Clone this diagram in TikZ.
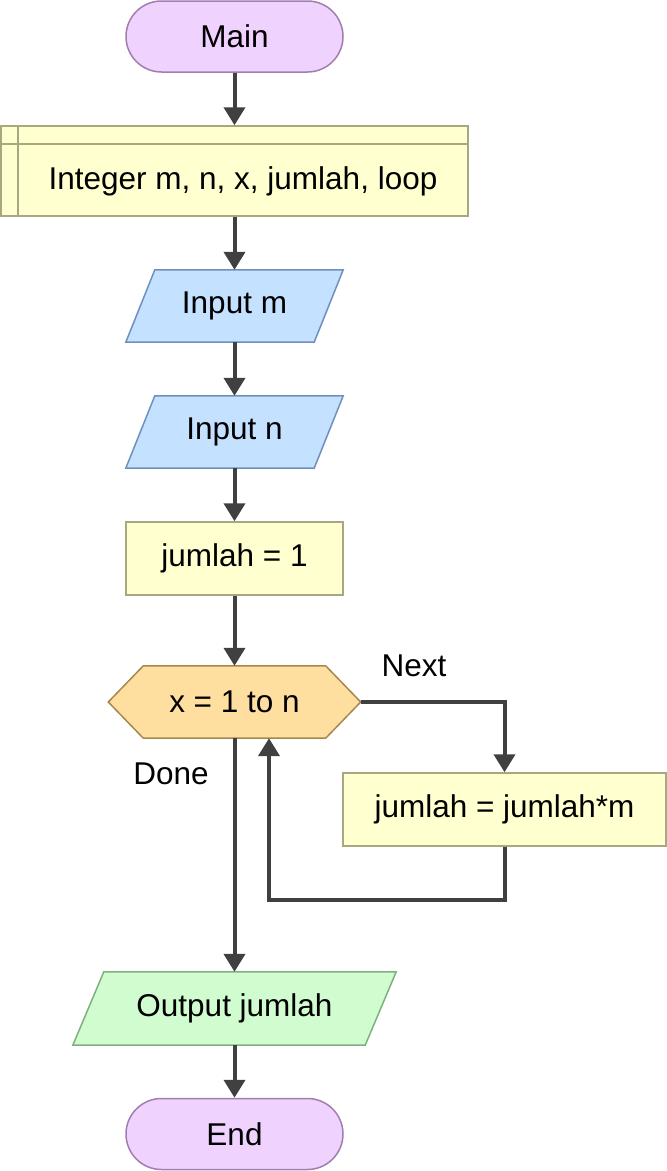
\documentclass[tikz,border=0pt]{standalone}
\usepackage{fontspec}
\setmainfont{Liberation Sans}
\usetikzlibrary{arrows.meta}
\pgfdeclarelayer{bg}
\pgfsetlayers{bg,main}
\definecolor{termfill}{HTML}{F0D2FE}
\definecolor{termline}{HTML}{A07FAE}
\definecolor{procfill}{HTML}{FFFFD0}
\definecolor{procline}{HTML}{A8A880}
\definecolor{infill}{HTML}{C4E1FF}
\definecolor{inline}{HTML}{6E90BC}
\definecolor{loopfill}{HTML}{FFDFA0}
\definecolor{loopline}{HTML}{A48850}
\definecolor{outfill}{HTML}{D0FCD0}
\definecolor{outline}{HTML}{80B080}
\definecolor{arrowc}{HTML}{404040}
\begin{document}
\begin{tikzpicture}[x=1pt,y=-1pt,
  every node/.style={font=\fontsize{31.5}{36}\selectfont, text=black},
  term/.style={rectangle, rounded corners=35.5pt, draw=termline, fill=termfill, line width=1.5pt, minimum width=217pt, minimum height=71pt, inner sep=0pt},
  proc/.style={rectangle, draw=procline, fill=procfill, line width=1.5pt, minimum height=73pt, inner sep=0pt},
  holder/.style={rectangle, inner sep=0pt, minimum height=72pt},
  inshape/.style={draw=inline, fill=infill, line width=1.5pt},
  outshape/.style={draw=outline, fill=outfill, line width=1.5pt},
  loopshape/.style={draw=loopline, fill=loopfill, line width=1.5pt},
  flow/.style={draw=arrowc, line width=4pt, -{Triangle[width=21pt,length=18pt]}},
  lbl/.style={inner sep=0pt}
]
\useasboundingbox (0,0) rectangle (667,1171);

% Main
\node[term] (main) at (234.5,36.5) {Main};

% Declaration
\node[proc, minimum width=467pt, minimum height=90pt] (decl) at (234.5,171) {};
\draw[procline, line width=1.5pt] (1,144) -- (468,144);
\draw[procline, line width=1.5pt] (18,126) -- (18,216);
\node[lbl] (decltext) at (243,181) {Integer m, n, x, jumlah, loop};

% Input m
\node[holder, minimum width=188pt] (inm) at (234.5,306) {Input m};
% Input n
\node[holder, minimum width=188pt] (inn) at (234.5,432) {Input n};
% jumlah = 1
\node[proc, minimum width=217pt] (j1) at (234.5,558.5) {jumlah = 1};
% loop
\node[holder, minimum width=252pt] (loop) at (234.5,702) {x = 1 to n};
% body
\node[proc, minimum width=323pt] (body) at (504.5,809.5) {jumlah = jumlah*m};
% output
\node[holder, minimum width=292pt, minimum height=73pt] (out) at (234.5,1008.5) {Output jumlah};
% End
\node[term] (end) at (234.5,1134) {End};

\begin{pgfonlayer}{bg}
\draw[inshape] ([xshift=14.5pt]inm.north west) -- ([xshift=14.5pt]inm.north east) -- ([xshift=-14.5pt]inm.south east) -- ([xshift=-14.5pt]inm.south west) -- cycle;
\draw[inshape] ([xshift=14.5pt]inn.north west) -- ([xshift=14.5pt]inn.north east) -- ([xshift=-14.5pt]inn.south east) -- ([xshift=-14.5pt]inn.south west) -- cycle;
\draw[outshape] ([xshift=15.5pt]out.north west) -- ([xshift=15.5pt]out.north east) -- ([xshift=-15.5pt]out.south east) -- ([xshift=-15.5pt]out.south west) -- cycle;
\draw[loopshape] (loop.west) -- ([xshift=35pt]loop.north west) -- ([xshift=-35pt]loop.north east) -- (loop.east) -- ([xshift=-35pt]loop.south east) -- ([xshift=35pt]loop.south west) -- cycle;
\end{pgfonlayer}

% Labels
\node[lbl] (next) at (414,666) {Next};
\node[lbl] (done) at (171,774) {Done};

% Connectors
\draw[flow] (main.south) -- (decl.north);
\draw[flow] (decl.south) -- (inm.north);
\draw[flow] (inm.south) -- (inn.north);
\draw[flow] (inn.south) -- (j1.north);
\draw[flow] (j1.south) -- (loop.north);
\draw[flow] (loop.east) -| (body.north);
\draw[flow] (body.south) |- ([xshift=34.5pt,yshift=-162pt]loop.south) -- ([xshift=34.5pt]loop.south);
\draw[flow] (loop.south) -- (out.north);
\draw[flow] (out.south) -- (end.north);
\end{tikzpicture}
\end{document}
